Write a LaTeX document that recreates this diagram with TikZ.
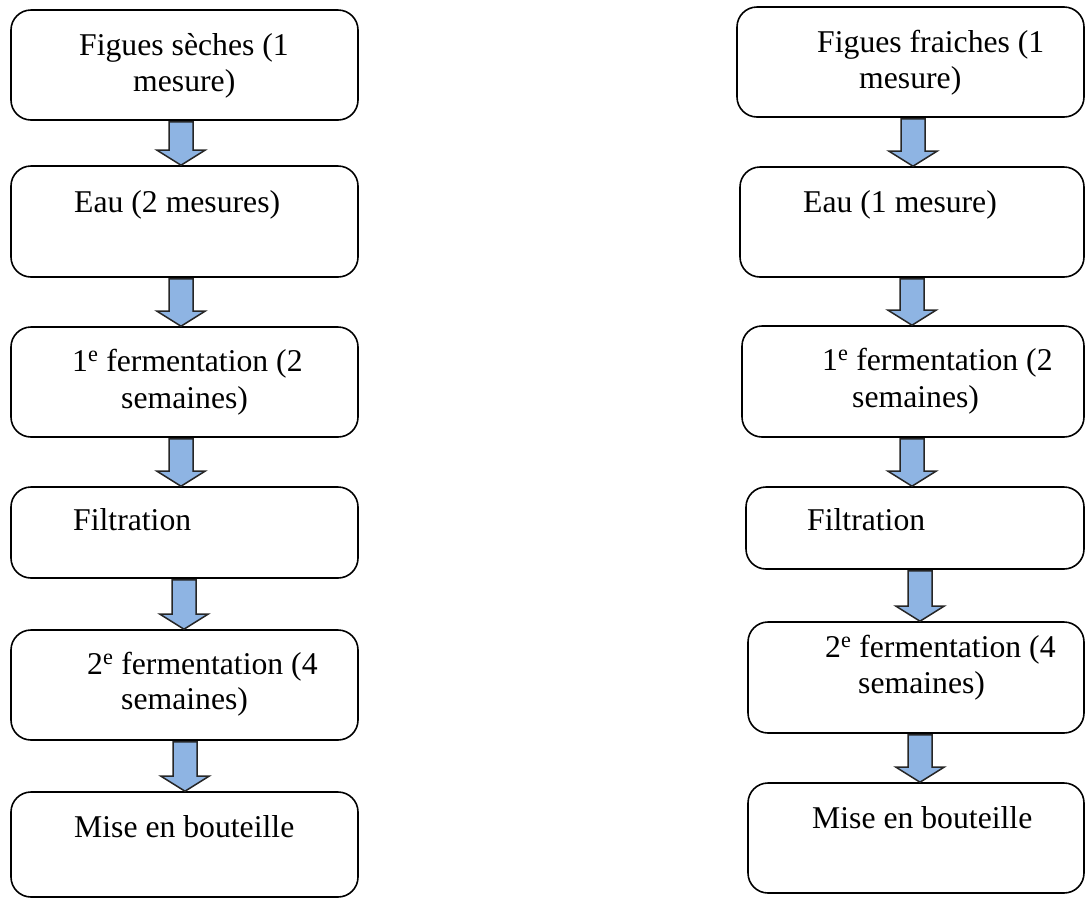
\documentclass[tikz,border=0pt]{standalone}
\usepackage{fontspec}
\setmainfont{Liberation Serif}
\usetikzlibrary{calc}
\definecolor{arrowfill}{HTML}{8EB4E3}
\tikzset{
  box/.style={draw=black, line width=1.6pt, rounded corners=20pt, rectangle, inner sep=0pt},
  lbl/.style={anchor=base west, inner sep=0pt, font=\fontsize{31.7}{36}\selectfont},
  arr/.style={draw=black!85, line width=1.5pt, fill=arrowfill, line join=miter}
}
\newcommand\flowarrow[3]{%
  \draw[arr] let \p1=(#1.south), \p2=(#2.north) in
    ({(#3-12)*1pt},{\y1-1pt}) -- ({(#3+12)*1pt},{\y1-1pt}) -- ({(#3+12)*1pt},{\y2+15pt})
    -- ({(#3+24)*1pt},{\y2+15pt}) -- ({#3*1pt},{\y2}) -- ({(#3-24)*1pt},{\y2+15pt})
    -- ({(#3-12)*1pt},{\y2+15pt}) -- cycle;}
\begin{document}
\begin{tikzpicture}[x=1pt,y=-1pt]
\useasboundingbox (0,0) rectangle (1086,898);
% left column boxes
\node[box, minimum width=347pt, minimum height=110pt] (L1) at (184.5,65) {};
\node[box, minimum width=347pt, minimum height=111pt] (L2) at (184.5,221.5) {};
\node[box, minimum width=347pt, minimum height=110pt] (L3) at (184.5,382) {};
\node[box, minimum width=347pt, minimum height=91pt] (L4) at (184.5,532.5) {};
\node[box, minimum width=347pt, minimum height=110pt] (L5) at (184.5,685) {};
\node[box, minimum width=347pt, minimum height=105pt] (L6) at (184.5,844.5) {};
% right column boxes
\node[box, minimum width=347pt, minimum height=110pt] (R1) at (910.5,62) {};
\node[box, minimum width=344pt, minimum height=110pt] (R2) at (912,222) {};
\node[box, minimum width=342pt, minimum height=111pt] (R3) at (913,381.5) {};
\node[box, minimum width=338pt, minimum height=82pt] (R4) at (915,528) {};
\node[box, minimum width=336pt, minimum height=111pt] (R5) at (916,677.5) {};
\node[box, minimum width=336pt, minimum height=110pt] (R6) at (916,838) {};
% arrows
\flowarrow{L1}{L2}{181}
\flowarrow{L2}{L3}{181}
\flowarrow{L3}{L4}{181}
\flowarrow{L4}{L5}{184}
\flowarrow{L5}{L6}{185}
\flowarrow{R1}{R2}{913}
\flowarrow{R2}{R3}{912}
\flowarrow{R3}{R4}{912}
\flowarrow{R4}{R5}{920}
\flowarrow{R5}{R6}{920}
% left texts
\node[lbl] (tL1a) at (79,55) {Figues sèches (1};
\node[lbl] (tL1b) at (133,91) {mesure)};
\node[lbl] (tL2) at (74,212) {Eau (2 mesures)};
\node[lbl] (tL3a) at (72,371) {1\textsuperscript{e} fermentation (2};
\node[lbl] (tL3b) at (121,408) {semaines)};
\node[lbl] (tL4) at (73,530) {Filtration};
\node[lbl] (tL5a) at (87,674) {2\textsuperscript{e} fermentation (4};
\node[lbl] (tL5b) at (121,709) {semaines)};
\node[lbl] (tL6) at (74,837) {Mise en bouteille};
% right texts
\node[lbl] (tR1a) at (817,52) {Figues fraiches (1};
\node[lbl] (tR1b) at (859,88) {mesure)};
\node[lbl] (tR2) at (803,212) {Eau (1 mesure)};
\node[lbl] (tR3a) at (822,370) {1\textsuperscript{e} fermentation (2};
\node[lbl] (tR3b) at (852,407) {semaines)};
\node[lbl] (tR4) at (807,530) {Filtration};
\node[lbl] (tR5a) at (825,657) {2\textsuperscript{e} fermentation (4};
\node[lbl] (tR5b) at (858,693) {semaines)};
\node[lbl] (tR6) at (812,828) {Mise en bouteille};
\end{tikzpicture}
\end{document}
